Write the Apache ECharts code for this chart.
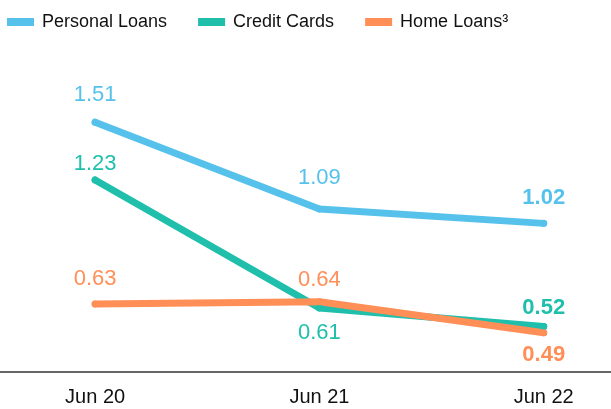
<!DOCTYPE html>
<html>
<head>
<meta charset="utf-8">
<script src="https://cdn.jsdelivr.net/npm/echarts@6/dist/echarts.min.js"></script>
<style>html,body{margin:0;padding:0;background:#fff;}#c{width:611px;height:409px;}</style>
</head>
<body>
<div id="c"></div>
<script>
var categories = ['Jun 20', 'Jun 21', 'Jun 22'];
var seriesNames = ['Personal Loans', 'Credit Cards', 'Home Loans³'];
var personalLoans = [1.51, 1.09, 1.02];
var creditCards = [1.23, 0.61, 0.52];
var homeLoans = [0.63, 0.64, 0.49];

var colors = ['#56C2EB', '#1FBFAC', '#FF8F57'];
var labelPos = [
  [['top', 13, 'normal'], ['top', 16, 'normal'], ['top', 11, 'bold']],
  [['top', 2, 'normal'], ['bottom', 10, 'normal'], ['top', 4, 'bold']],
  [['top', 10, 'normal'], ['top', 7, 'normal'], ['bottom', 8, 'bold']]
];
var values = [personalLoans, creditCards, homeLoans];
var catIndex = categories.map(function (c, i) { return i; });

var chart = echarts.init(document.getElementById('c'));
var series = values.map(function (vals, si) {
  return {
    name: seriesNames[si],
    type: 'line',
    symbol: 'circle',
    symbolSize: 7,
    showSymbol: true,
    lineStyle: { width: 7, color: colors[si], cap: 'round', join: 'round' },
    itemStyle: { color: colors[si] },
    emphasis: { disabled: true },
    data: vals.map(function (v, i) {
      var lp = labelPos[si][i];
      return {
        value: [catIndex[i], v],
        label: {
          show: true,
          position: lp[0],
          distance: lp[1],
          fontWeight: lp[2],
          color: colors[si],
          fontSize: 22,
          fontFamily: 'Liberation Sans',
          formatter: function (p) { return p.value[1].toFixed(2); }
        }
      };
    })
  };
});

chart.setOption({
  animation: false,
  color: colors,
  legend: {
    left: 2,
    top: 8,
    itemWidth: 27,
    itemHeight: 8,
    itemGap: 31,
    icon: 'rect',
    textStyle: { fontSize: 18, color: '#111', fontFamily: 'Liberation Sans', padding: [0, 0, 0, 3] },
    data: seriesNames
  },
  grid: { left: 0, right: 0, top: 83, bottom: 37, containLabel: false },
  xAxis: {
    type: 'value',
    min: -0.424,
    max: 2.30,
    splitLine: { show: false },
    axisLine: { show: true, onZero: false, lineStyle: { color: '#333', width: 1.5 } },
    axisTick: { show: false },
    axisLabel: {
      fontSize: 20, color: '#111', fontFamily: 'Liberation Sans', margin: 15,
      customValues: catIndex,
      formatter: function (v) { return categories[Math.round(v)]; }
    }
  },
  yAxis: {
    type: 'value',
    min: 0.3,
    max: 1.7,
    show: false,
    splitLine: { show: false }
  },
  series: series
});
</script>
</body>
</html>
